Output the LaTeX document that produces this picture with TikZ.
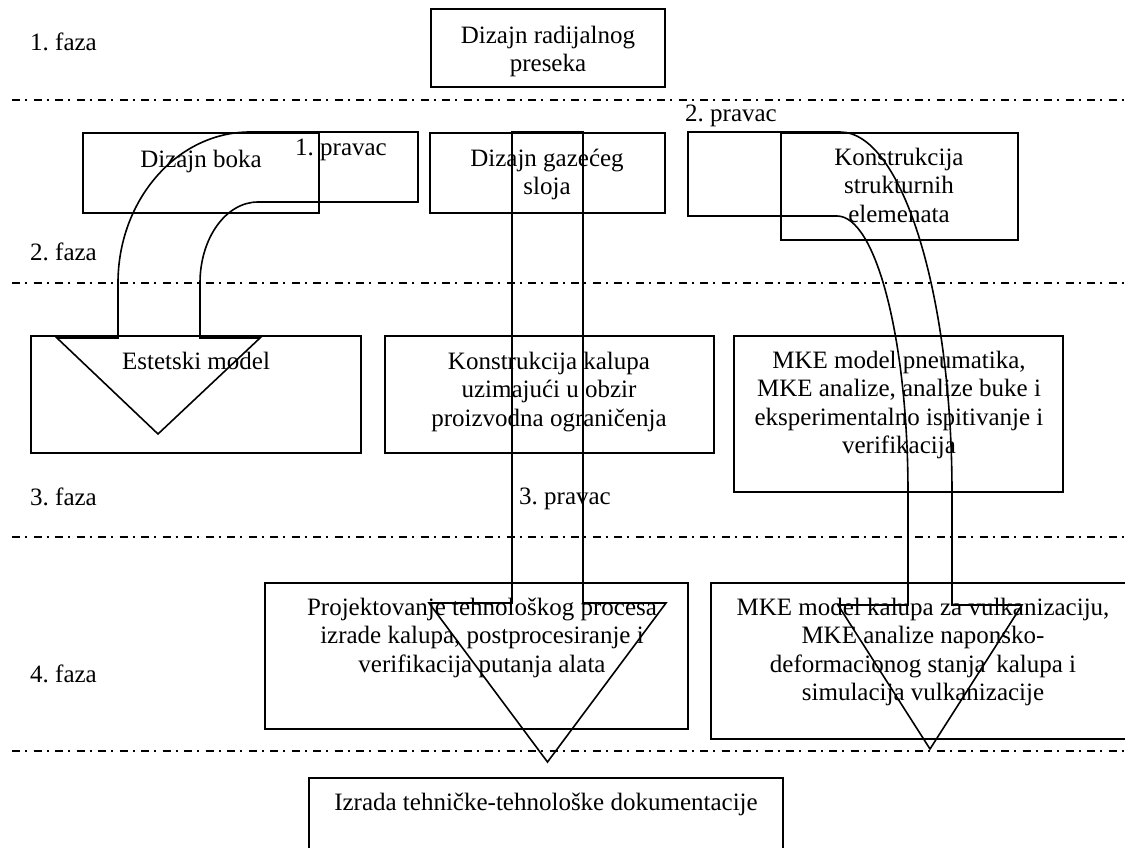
\documentclass[tikz,border=0pt]{standalone}
\usepackage{fontspec}
\setmainfont{Liberation Serif}
\frenchspacing
\begin{document}
\begin{tikzpicture}[x=1pt,y=-1pt,
  box/.style={draw, line width=1.8pt, inner sep=0pt, outer sep=0pt},
  txt/.style={anchor=north, inner sep=0pt, align=center, font=\fontsize{25}{28.5}\selectfont},
  lbl/.style={anchor=base west, inner sep=0pt, font=\fontsize{25}{28.5}\selectfont},
  sepline/.style={line width=1.6pt, dash pattern=on 8pt off 5pt on 2pt off 6.5pt},
  blk/.style={line width=1.6pt, line join=miter}]
\useasboundingbox (0,0) rectangle (1125,848);
\clip (0,0) rectangle (1125,848);
% phase separators
\coordinate (s1a) at (12,100);  \coordinate (s1b) at (1125,100);
\coordinate (s2a) at (12,283);  \coordinate (s2b) at (1125,283);
\coordinate (s3a) at (12,537);  \coordinate (s3b) at (1125,537);
\coordinate (s4a) at (12,751);  \coordinate (s4b) at (1125,751);
\draw[sepline] (s1a) -- (s1b);
\draw[sepline] (s2a) -- (s2b);
\draw[sepline] (s3a) -- (s3b);
\draw[sepline] (s4a) -- (s4b);
% phase labels
\node[lbl] (f1) at (30,51) {1. faza};
\node[lbl] (f2) at (30,260) {2. faza};
\node[lbl] (f3) at (30,505) {3. faza};
\node[lbl] (f4) at (30,682) {4. faza};
\node[lbl] (p1) at (295,156) {1. pravac};
\node[lbl] (p2) at (685,122) {2. pravac};
\node[lbl] (p3) at (519,504) {3. pravac};
% boxes
\node[box, minimum width=234pt, minimum height=78pt] (rad) at (548,48) {};
\node[box, minimum width=236pt, minimum height=80pt] (boka) at (201,173) {};
\node[box, minimum width=235pt, minimum height=80pt] (gaz) at (547.5,173) {};
\node[box, minimum width=237pt, minimum height=107pt] (kon) at (899.5,186.5) {};
\node[box, minimum width=330pt, minimum height=117pt] (est) at (196,394.5) {};
\node[box, minimum width=329pt, minimum height=117pt] (kal) at (549.5,394.5) {};
\node[box, minimum width=329pt, minimum height=156pt] (mke) at (898.5,414) {};
\node[box, minimum width=423pt, minimum height=146pt] (proj) at (476.5,656) {};
\node[box, minimum width=423pt, minimum height=156pt] (mkek) at (922.5,661) {};
\node[box, minimum width=474pt, minimum height=92pt] (izr) at (546,824) {};
% box texts
\node[txt] (radt) at (548,23) {\strut Dizajn radijalnog\\preseka};
\node[txt] (bokat) at (201,147) {\strut Dizajn boka};
\node[txt] (gazt) at (547,146) {\strut Dizajn gazećeg\\sloja};
\node[txt] (kont) at (899,145) {\strut Konstrukcija\\strukturnih\\elemenata};
\node[txt] (estt) at (196,349) {\strut Estetski model};
\node[txt] (kalt) at (549,349) {\strut Konstrukcija kalupa\\uzimajući u obzir\\proizvodna ograničenja};
\node[txt] (mket) at (899,348) {\strut MKE model pneumatika,\\MKE analize, analize buke i\\eksperimentalno ispitivanje i\\verifikacija};
\node[txt] (projt) at (482,595) {\strut Projektovanje tehnološkog procesa\\izrade kalupa, postprocesiranje i\\verifikacija putanja alata};
\node[txt] (mkekt) at (923,595) {\strut MKE model kalupa za vulkanizaciju,\\MKE analize naponsko-\\deformacionog stanja\, kalupa i\\simulacija vulkanizacije};
\node[txt] (izrt) at (546,790) {\strut Izrada tehničke-tehnološke dokumentacije};
% 1. pravac: bent block arrow
\draw[blk] (118,338) -- (118,283) .. controls (118,200) and (177,132) .. (250,132)
  -- (418,132) -- (418,202) -- (258,202) .. controls (226,202) and (200,238) .. (200,283)
  -- (200,338) -- (260,338) -- (158,434) -- (57,338) -- cycle;
% 3. pravac: straight block arrow
\draw[blk] (512,132) -- (583,132) -- (583,603) -- (666,603) -- (547.5,762)
  -- (429,603) -- (512,603) -- cycle;
% 2. pravac: bent block arrow
\draw[blk] (908,605) -- (908,493) .. controls (908,340) and (876,216) .. (837,216)
  -- (688,216) -- (688,132) -- (840,132) .. controls (902,132) and (952,294) .. (952,493)
  -- (952,605) -- (1022,605) -- (930,749) -- (838,605) -- cycle;
\end{tikzpicture}
\end{document}
